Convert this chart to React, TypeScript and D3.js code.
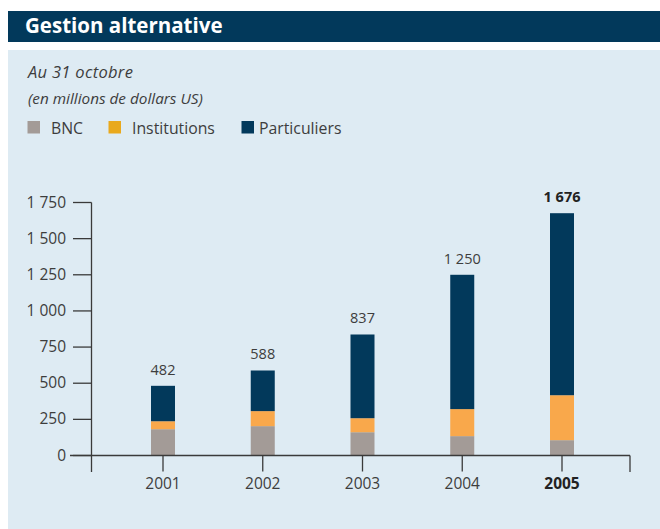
import React from "react";
import * as d3 from "d3";

// Alternative asset management, as at October 31 (US$ millions)
const years = ["2001", "2002", "2003", "2004", "2005"];
const bnc = [182, 203, 161, 134, 106];
const institutions = [55, 104, 97, 187, 311];
const particuliers = [245, 281, 579, 929, 1259];
const totals = [482, 588, 837, 1250, 1676];
const yTicks = [0, 250, 500, 750, 1000, 1250, 1500, 1750];

const seriesKeys = ["bnc", "institutions", "particuliers"];
const seriesNames = ["BNC", "Institutions", "Particuliers"];

const NAVY = "#02395b";
const PANEL = "#deebf3";
const BAR_COLORS = ["#a39b97", "#f9a84b", NAVY];
const LEGEND_COLORS = ["#a39b97", "#e9a91d", NAVY];
const TEXT = "#3d3d3d";
const AXIS = "#3a3a3a";
const FONT = "'Open Sans', 'Noto Sans', sans-serif";

const fmt = d3.formatLocale({
  decimal: ",",
  thousands: " ",
  grouping: [3],
  currency: ["", " $"],
}).format(",d");

export default function App() {
  const rows = years.map((y, i) => ({
    year: y,
    bnc: bnc[i],
    institutions: institutions[i],
    particuliers: particuliers[i],
    total: totals[i],
  }));

  const stack = d3.stack<any>().keys(seriesKeys);
  const layers = stack(rows);

  const x = d3.scalePoint<string>().domain(years).range([163, 562]);
  const y = d3.scaleLinear().domain([0, 1750]).range([455.5, 202.5]);
  const barW = 24;
  const axisX = 91.5;
  const lastYear = years[years.length - 1];

  const legendSwatchX = [27.5, 108.5, 241.5];
  const legendTextX = [51, 132, 259];

  return (
    <svg
      width={660}
      height={529}
      style={{ position: "absolute", left: 0, top: 0, display: "block", background: "#fff" }}
      fontFamily={FONT}
    >
      {/* header */}
      <rect x={8} y={11} width={652} height={31} fill={NAVY} />
      <text x={25} y={33} fill="#fff" fontSize={20.5} fontWeight={700}>
        Gestion alternative
      </text>

      {/* panel */}
      <rect x={8} y={50} width={652} height={479} fill={PANEL} />
      <text x={28} y={78} fill={TEXT} fontSize={16.5} fontStyle="italic" letterSpacing={0.3}>
        Au 31 octobre
      </text>
      <text x={28} y={104} fill={TEXT} fontSize={15.3} fontStyle="italic">
        (en millions de dollars US)
      </text>

      {/* legend */}
      {seriesNames.map((name, i) => (
        <g key={name}>
          <rect x={legendSwatchX[i]} y={121} width={12.5} height={12.5} fill={LEGEND_COLORS[i]} />
          <text x={legendTextX[i]} y={134} fill={TEXT} fontSize={15.8}>
            {name}
          </text>
        </g>
      ))}

      {/* bars */}
      {layers.map((layer, li) => (
        <g key={layer.key} fill={BAR_COLORS[li]}>
          {layer.map((d: any) => (
            <rect
              key={d.data.year}
              x={(x(d.data.year) as number) - barW / 2}
              y={y(d[1])}
              width={barW}
              height={y(d[0]) - y(d[1])}
            />
          ))}
        </g>
      ))}

      {/* total labels */}
      {rows.map((r) => (
        <text
          key={r.year}
          x={x(r.year)}
          y={y(r.total) - 11}
          textAnchor="middle"
          fill={r.year === lastYear ? "#222" : TEXT}
          fontWeight={r.year === lastYear ? 700 : 400}
          fontSize={14.5}
        >
          {fmt(r.total)}
        </text>
      ))}

      {/* y axis */}
      <line x1={axisX} x2={axisX} y1={y(1750)} y2={472} stroke={AXIS} strokeWidth={1.3} />
      {yTicks.map((t) => (
        <g key={t}>
          <line x1={73} x2={axisX} y1={y(t)} y2={y(t)} stroke={AXIS} strokeWidth={1.3} />
          <text x={66} y={y(t) + 5} textAnchor="end" fill={TEXT} fontSize={15.5}>
            {fmt(t)}
          </text>
        </g>
      ))}

      {/* x axis */}
      <line x1={70} x2={630} y1={y(0)} y2={y(0)} stroke={AXIS} strokeWidth={1.3} />
      <line x1={630} x2={630} y1={y(0)} y2={472} stroke={AXIS} strokeWidth={1.3} />
      {years.map((yr) => (
        <g key={yr}>
          <line x1={x(yr)} x2={x(yr)} y1={y(0)} y2={471.5} stroke={AXIS} strokeWidth={1.3} />
          <text
            x={x(yr)}
            y={489}
            textAnchor="middle"
            fill={yr === lastYear ? "#222" : TEXT}
            fontWeight={yr === lastYear ? 700 : 400}
            fontSize={15.5}
          >
            {yr}
          </text>
        </g>
      ))}
    </svg>
  );
}
